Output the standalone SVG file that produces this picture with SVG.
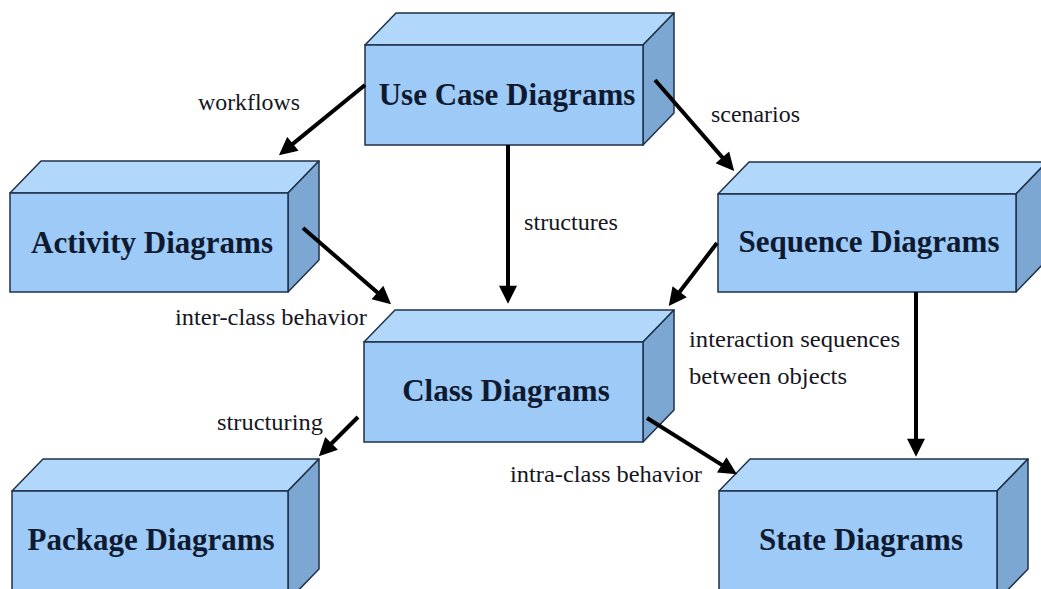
<svg xmlns="http://www.w3.org/2000/svg" width="1041" height="589" viewBox="0 0 1041 589">
  <style>
    .front { fill: #9dcaf6; stroke: #1f3048; stroke-width: 1.5; }
    .top { fill: #b1d8fb; stroke: #1f3048; stroke-width: 1.5; stroke-linejoin: round; }
    .side { fill: #7ba7d2; stroke: #1f3048; stroke-width: 1.5; stroke-linejoin: round; }
    .title { font-family: "Liberation Serif", "Times New Roman", serif; font-weight: bold; font-size: 31px; fill: #0f1a30; text-anchor: middle; }
    .lbl { font-family: "Liberation Serif", "Times New Roman", serif; font-size: 23px; fill: #16161e; }
    .conn { stroke: #000; stroke-width: 4; fill: none; marker-end: url(#head); }
  </style>
  <defs>
    <marker id="head" viewBox="0 0 10 10" refX="4" refY="5" markerWidth="5" markerHeight="4.5" orient="auto" markerUnits="strokeWidth">
      <path d="M0,0 L10,5 L0,10 z" fill="#000"/>
    </marker>
  </defs>
  <rect width="1041" height="589" fill="#fff"/>

  <g id="use-case">
    <polygon class="top" points="365,45 396,13 674,13 643,45"/>
    <polygon class="side" points="643,45 674,13 674,113 643,145"/>
    <rect class="front" x="365" y="45" width="278" height="100"/>
    <text class="title" x="507" y="105">Use Case Diagrams</text>
  </g>

  <g id="activity">
    <polygon class="top" points="10,193 41,161 319,161 288,193"/>
    <polygon class="side" points="288,193 319,161 319,260 288,292"/>
    <rect class="front" x="10" y="193" width="278" height="99"/>
    <text class="title" x="152" y="253">Activity Diagrams</text>
  </g>

  <g id="sequence">
    <polygon class="top" points="718,194 749,162 1047,162 1016,194"/>
    <polygon class="side" points="1016,194 1047,162 1047,260 1016,292"/>
    <rect class="front" x="718" y="194" width="298" height="98"/>
    <text class="title" x="869" y="252">Sequence Diagrams</text>
  </g>

  <g id="class">
    <polygon class="top" points="364,342 395,310 674,310 643,342"/>
    <polygon class="side" points="643,342 674,310 674,410 643,442"/>
    <rect class="front" x="364" y="342" width="279" height="100"/>
    <text class="title" x="506" y="401">Class Diagrams</text>
  </g>

  <g id="package">
    <polygon class="top" points="12,491 43,459 319,459 288,491"/>
    <polygon class="side" points="288,491 319,459 319,569 288,601"/>
    <rect class="front" x="12" y="491" width="276" height="110"/>
    <text class="title" x="151" y="550">Package Diagrams</text>
  </g>

  <g id="state">
    <polygon class="top" points="719,491 750,459 1028,459 997,491"/>
    <polygon class="side" points="997,491 1028,459 1028,569 997,601"/>
    <rect class="front" x="719" y="491" width="278" height="110"/>
    <text class="title" x="861" y="550">State Diagrams</text>
  </g>

  <g id="connectors">
    <line class="conn" x1="365" y1="85" x2="287.3" y2="148.4"/>
    <line class="conn" x1="655" y1="80" x2="727.1" y2="162.9"/>
    <line class="conn" x1="508" y1="145" x2="508" y2="293"/>
    <line class="conn" x1="303" y1="228" x2="382.9" y2="297.2"/>
    <line class="conn" x1="717" y1="243" x2="675.3" y2="297.5"/>
    <line class="conn" x1="916" y1="292" x2="916" y2="446"/>
    <line class="conn" x1="358" y1="417" x2="326.5" y2="448.5"/>
    <line class="conn" x1="647" y1="418" x2="727.8" y2="468.6"/>

    <text class="lbl" x="198" y="110" textLength="102" lengthAdjust="spacingAndGlyphs">workflows</text>
    <text class="lbl" x="711" y="122" textLength="89" lengthAdjust="spacingAndGlyphs">scenarios</text>
    <text class="lbl" x="524" y="230" textLength="94" lengthAdjust="spacingAndGlyphs">structures</text>
    <text class="lbl" x="175" y="325" textLength="192" lengthAdjust="spacingAndGlyphs">inter-class behavior</text>
    <text class="lbl" x="689" y="347" textLength="211" lengthAdjust="spacingAndGlyphs">interaction sequences</text>
    <text class="lbl" x="689" y="384" textLength="158" lengthAdjust="spacingAndGlyphs">between objects</text>
    <text class="lbl" x="217" y="430" textLength="106" lengthAdjust="spacingAndGlyphs">structuring</text>
    <text class="lbl" x="510" y="482" textLength="192" lengthAdjust="spacingAndGlyphs">intra-class behavior</text>
  </g>
</svg>
